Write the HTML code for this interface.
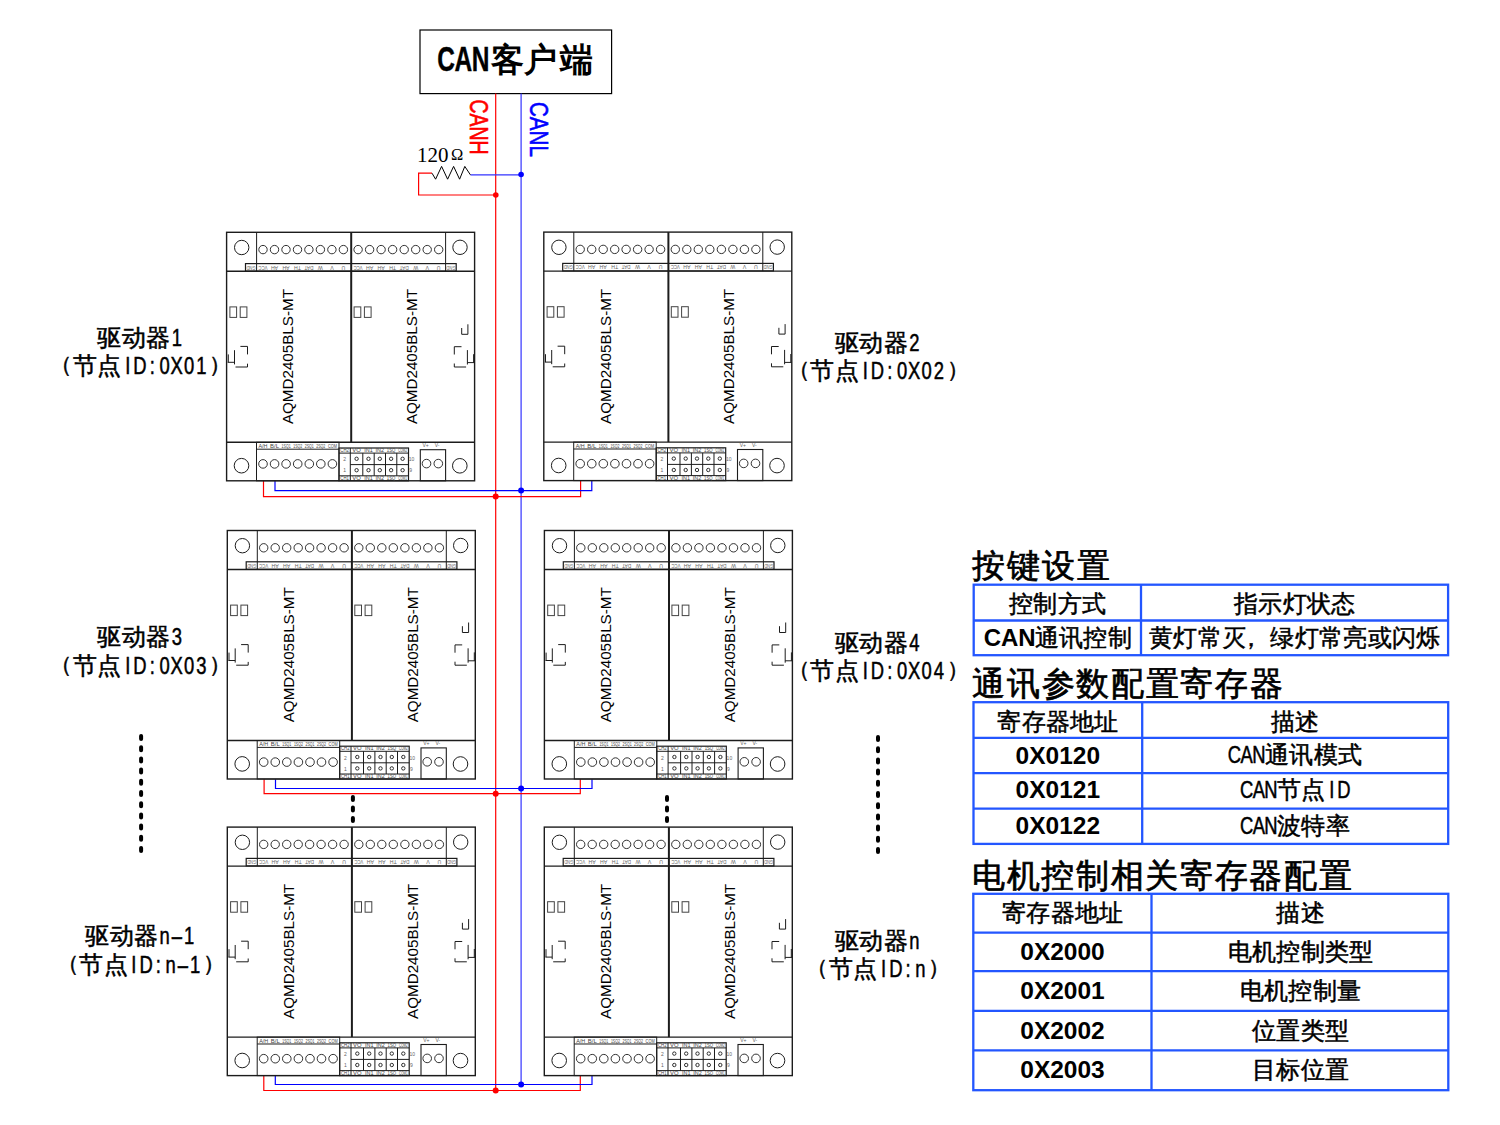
<!DOCTYPE html>
<html><head><meta charset="utf-8">
<style>
html,body{margin:0;padding:0;background:#fff;width:1500px;height:1125px;overflow:hidden}
svg{position:absolute;left:0;top:0;display:block}
text{font-family:"Liberation Sans",sans-serif}
.serif{font-family:"Liberation Serif",serif}
</style></head><body>
<svg width="1500" height="1125" viewBox="0 0 1500 1125">
<defs>
<g id="m" fill="none" stroke="#1c1c1c">
  <!-- outer -->
  <rect x="0" y="0" width="248" height="248.5" stroke-width="1.4"/>
  <!-- top strip -->
  <line x1="0" y1="39" x2="248" y2="39" stroke-width="1.4"/>
  <line x1="30" y1="0" x2="30" y2="39" stroke-width="1"/>
  <line x1="219" y1="0" x2="219" y2="39" stroke-width="1"/>
  <line x1="124.6" y1="0" x2="124.6" y2="210" stroke-width="2"/>
  <!-- body bottom -->
  <line x1="0" y1="210" x2="248" y2="210" stroke-width="1.4"/>
  <!-- big circles -->
  <circle cx="15.1" cy="15.2" r="7.2" stroke-width="1"/>
  <circle cx="233.4" cy="15" r="7.2" stroke-width="1"/>
  <circle cx="14.9" cy="233.4" r="7.3" stroke-width="1"/>
  <circle cx="233.2" cy="233.5" r="7.3" stroke-width="1"/>
  <!-- top small circles -->
  <g stroke-width="0.9">
  <circle cx="36.4" cy="17.3" r="4.2"/><circle cx="47.9" cy="17.3" r="4.2"/><circle cx="59.4" cy="17.3" r="4.2"/><circle cx="70.9" cy="17.3" r="4.2"/><circle cx="82.3" cy="17.3" r="4.2"/><circle cx="93.8" cy="17.3" r="4.2"/><circle cx="105.3" cy="17.3" r="4.2"/><circle cx="116.8" cy="17.3" r="4.2"/>
  <circle cx="131.5" cy="17.3" r="4.2"/><circle cx="143" cy="17.3" r="4.2"/><circle cx="154.5" cy="17.3" r="4.2"/><circle cx="166" cy="17.3" r="4.2"/><circle cx="177.6" cy="17.3" r="4.2"/><circle cx="189.1" cy="17.3" r="4.2"/><circle cx="200.6" cy="17.3" r="4.2"/><circle cx="212.1" cy="17.3" r="4.2"/>
  </g>
  <!-- top label strip -->
  <rect x="18.9" y="31.3" width="210.7" height="7.5" stroke-width="1.2"/>
  <!-- squares -->
  <g stroke="#444" stroke-width="1">
  <rect x="3.3" y="74.6" width="6.7" height="10.5"/><rect x="13.6" y="74.6" width="6.7" height="10.5"/>
  <rect x="127.5" y="74.6" width="6.7" height="10.5"/><rect x="137.8" y="74.6" width="6.7" height="10.5"/>
  </g>
  <!-- left bracket -->
  <g stroke-width="1">
  <path d="M13.8 114.1H20.9V122.1M8.9 134.7H20.9V131.4M7.9 117.9V132.1M1.1 130H7.9M1.7 122.1V130"/>
  <path d="M235.1 95.7V102H241.3V92M234.9 114.4H227.7V122.2M227.7 131.2V134.7H239.5M240.8 117.8V132.2M240.8 130.3H247.9M247 121.9V130.3"/>
  </g>
  <!-- bottom terminal block -->
  <rect x="29.9" y="210" width="82.5" height="38.5" stroke-width="1"/>
  <line x1="29.9" y1="216.9" x2="112.4" y2="216.9" stroke-width="1"/>
  <g stroke-width="0.9">
  <circle cx="36.4" cy="231.6" r="4.3"/><circle cx="47.97" cy="231.6" r="4.3"/><circle cx="59.5" cy="231.6" r="4.3"/><circle cx="71.1" cy="231.6" r="4.3"/><circle cx="82.7" cy="231.6" r="4.3"/><circle cx="94.2" cy="231.6" r="4.3"/><circle cx="105.8" cy="231.6" r="4.3"/>
  </g>
  <!-- pin header -->
  <rect x="112.4" y="215.7" width="69.5" height="32.8" stroke-width="1.2"/>
  <line x1="112.4" y1="220.8" x2="181.9" y2="220.8" stroke-width="1"/>
  <line x1="112.4" y1="243.5" x2="181.9" y2="243.5" stroke-width="1"/>
  <line x1="123.7" y1="215.7" x2="123.7" y2="248.5" stroke-width="1"/>
  <line x1="123.7" y1="232.3" x2="181.9" y2="232.3" stroke-width="1"/>
  <line x1="136.2" y1="220.8" x2="136.2" y2="243.5" stroke-width="1"/>
  <line x1="147.6" y1="220.8" x2="147.6" y2="243.5" stroke-width="1"/>
  <line x1="158.9" y1="220.8" x2="158.9" y2="243.5" stroke-width="1"/>
  <line x1="170.2" y1="220.8" x2="170.2" y2="243.5" stroke-width="1"/>
  <g stroke-width="0.9">
  <circle cx="130" cy="226.5" r="1.7"/><circle cx="141.9" cy="226.5" r="1.7"/><circle cx="153.2" cy="226.5" r="1.7"/><circle cx="164.5" cy="226.5" r="1.7"/><circle cx="176" cy="226.5" r="1.7"/>
  <circle cx="130" cy="237.9" r="1.7"/><circle cx="141.9" cy="237.9" r="1.7"/><circle cx="153.2" cy="237.9" r="1.7"/><circle cx="164.5" cy="237.9" r="1.7"/><circle cx="176" cy="237.9" r="1.7"/>
  </g>
  <!-- power terminal -->
  <rect x="193.7" y="217.4" width="25.3" height="31.1" stroke-width="1.1"/>
  <circle cx="199.9" cy="231.3" r="4.3" stroke-width="0.9"/>
  <circle cx="211.7" cy="231.3" r="4.3" stroke-width="0.9"/>
  <!-- tiny labels -->
  <g fill="#666" stroke="none" style="font-family:'Liberation Serif',serif" font-size="5.2" text-anchor="middle"><text x="24.4" y="36.8" transform="rotate(180 24.4 35)" textLength="9" lengthAdjust="spacingAndGlyphs">GND</text><text x="224.3" y="36.8" transform="rotate(180 224.3 35)" textLength="9" lengthAdjust="spacingAndGlyphs">GND</text><text x="36.4" y="36.8" transform="rotate(180 36.4 35)" textLength="9" lengthAdjust="spacingAndGlyphs">VCC</text><text x="47.9" y="36.8" transform="rotate(180 47.9 35)">AH</text><text x="59.4" y="36.8" transform="rotate(180 59.4 35)">AH</text><text x="70.9" y="36.8" transform="rotate(180 70.9 35)">TH</text><text x="82.3" y="36.8" transform="rotate(180 82.3 35)" textLength="9" lengthAdjust="spacingAndGlyphs">DAT</text><text x="93.8" y="36.8" transform="rotate(180 93.8 35)">W</text><text x="105.3" y="36.8" transform="rotate(180 105.3 35)">V</text><text x="116.8" y="36.8" transform="rotate(180 116.8 35)">U</text><text x="131.5" y="36.8" transform="rotate(180 131.5 35)" textLength="9" lengthAdjust="spacingAndGlyphs">VCC</text><text x="143" y="36.8" transform="rotate(180 143 35)">AH</text><text x="154.5" y="36.8" transform="rotate(180 154.5 35)">AH</text><text x="166" y="36.8" transform="rotate(180 166 35)">TH</text><text x="177.6" y="36.8" transform="rotate(180 177.6 35)" textLength="9" lengthAdjust="spacingAndGlyphs">DAT</text><text x="189.1" y="36.8" transform="rotate(180 189.1 35)">W</text><text x="200.6" y="36.8" transform="rotate(180 200.6 35)">V</text><text x="212.1" y="36.8" transform="rotate(180 212.1 35)">U</text><text x="36.4" y="215.6" fill="#444" font-size="4.6" textLength="9" lengthAdjust="spacingAndGlyphs">A/H</text><text x="47.97" y="215.6" fill="#444" font-size="4.6" textLength="9" lengthAdjust="spacingAndGlyphs">B/L</text><text x="59.5" y="215.6" fill="#444" font-size="4.6" textLength="9" lengthAdjust="spacingAndGlyphs">1SQ1</text><text x="71.1" y="215.6" fill="#444" font-size="4.6" textLength="9" lengthAdjust="spacingAndGlyphs">1SQ2</text><text x="82.7" y="215.6" fill="#444" font-size="4.6" textLength="9" lengthAdjust="spacingAndGlyphs">2SQ1</text><text x="94.2" y="215.6" fill="#444" font-size="4.6" textLength="9" lengthAdjust="spacingAndGlyphs">2SQ2</text><text x="105.8" y="215.6" fill="#444" font-size="4.6" textLength="9" lengthAdjust="spacingAndGlyphs">COM</text><text x="118" y="219.9" fill="#444" font-size="4.6" textLength="8.5" lengthAdjust="spacingAndGlyphs">CH2</text><text x="130" y="219.9" fill="#444" font-size="4.6" textLength="8.5" lengthAdjust="spacingAndGlyphs">VO</text><text x="141.9" y="219.9" fill="#444" font-size="4.6" textLength="8.5" lengthAdjust="spacingAndGlyphs">IN1</text><text x="153.2" y="219.9" fill="#444" font-size="4.6" textLength="8.5" lengthAdjust="spacingAndGlyphs">IN2</text><text x="164.5" y="219.9" fill="#444" font-size="4.6" textLength="8.5" lengthAdjust="spacingAndGlyphs">1SQ</text><text x="176" y="219.9" fill="#444" font-size="4.6" textLength="8.5" lengthAdjust="spacingAndGlyphs">COM2</text><text x="118" y="247.9" fill="#444" font-size="4.6" textLength="8.5" lengthAdjust="spacingAndGlyphs">CH1</text><text x="130" y="247.9" fill="#444" font-size="4.6" textLength="8.5" lengthAdjust="spacingAndGlyphs">VO</text><text x="141.9" y="247.9" fill="#444" font-size="4.6" textLength="8.5" lengthAdjust="spacingAndGlyphs">IN1</text><text x="153.2" y="247.9" fill="#444" font-size="4.6" textLength="8.5" lengthAdjust="spacingAndGlyphs">IN2</text><text x="164.5" y="247.9" fill="#444" font-size="4.6" textLength="8.5" lengthAdjust="spacingAndGlyphs">1SQ</text><text x="176" y="247.9" fill="#444" font-size="4.6" textLength="8.5" lengthAdjust="spacingAndGlyphs">COM1</text><text x="118" y="229" font-size="5">2</text><text x="118" y="240" font-size="5">1</text><text x="185" y="229" font-size="5">10</text><text x="184" y="240" font-size="5">9</text><text x="199" y="214.5" font-size="5">V+</text><text x="210.5" y="214.5" font-size="5">V-</text></g>
  <!-- model text -->
  <g fill="#000" stroke="none" font-size="15.2">
    <text transform="translate(66.7 124.3) rotate(-90)" text-anchor="middle">AQMD2405BLS-MT</text>
    <text transform="translate(190.5 124.3) rotate(-90)" text-anchor="middle">AQMD2405BLS-MT</text>
  </g>
</g>
</defs>

<!-- CAN client box -->
<rect x="420" y="30" width="191.6" height="63.6" fill="none" stroke="#000" stroke-width="1.2"/>

<!-- buses -->
<g fill="none" stroke-width="1.2">
<line x1="495.7" y1="93.6" x2="495.7" y2="1090.5" stroke="#ff0000"/>
<line x1="521.1" y1="93.6" x2="521.1" y2="1084.5" stroke="#3333ff"/>
<path d="M432 173.2H418.6V195H495.7" stroke="#ff0000"/>
<path d="M470.4 174.8H521.1" stroke="#3333ff"/>
<path d="M432 173.2L435.6 179.2L441.6 166.4L447.6 179.2L453.6 166.4L459.6 179.2L464.8 166.4L470.4 174.8" stroke="#000" stroke-width="1"/>
<!-- row1 -->
<path d="M263.5 480.8V496.6H580.6V480.8" stroke="#ff0000"/>
<path d="M275 480.8V490.6H591.8V480.8" stroke="#0000ff"/>
<!-- row2 -->
<path d="M264.1 779.3V793.7H580.3V779.3" stroke="#ff0000"/>
<path d="M275.5 779.3V788.5H592V779.3" stroke="#0000ff"/>
<!-- row3 -->
<path d="M263.8 1075.5V1090.5H580.3V1075.5" stroke="#ff0000"/>
<path d="M275.3 1075.5V1084.5H592V1075.5" stroke="#0000ff"/>
</g>
<g>
<circle cx="495.8" cy="195" r="2.8" fill="#ff0000"/>
<circle cx="521.1" cy="174.5" r="2.8" fill="#0000ff"/>
<circle cx="495.7" cy="496.6" r="3" fill="#ff0000"/>
<circle cx="521.1" cy="490.6" r="3" fill="#0000ff"/>
<circle cx="495.7" cy="793.7" r="3" fill="#ff0000"/>
<circle cx="521.1" cy="788.5" r="3" fill="#0000ff"/>
<circle cx="495.7" cy="1090.5" r="3" fill="#ff0000"/>
<circle cx="521.1" cy="1084.5" r="3" fill="#0000ff"/>
</g>

<!-- modules -->
<use href="#m" x="226.6" y="232.3"/>
<use href="#m" x="543.8" y="232.1"/>
<use href="#m" x="227.3" y="530.5"/>
<use href="#m" x="544.4" y="530.5"/>
<use href="#m" x="227.3" y="827.1"/>
<use href="#m" x="544.3" y="827.1"/>


<g font-weight="bold" fill="#000"><text transform="translate(446 71.2) scale(0.7 1)" font-size="35" text-anchor="middle" stroke="#000" stroke-width="0.4">C</text><text transform="translate(463.3 71.2) scale(0.7 1)" font-size="35" text-anchor="middle" stroke="#000" stroke-width="0.4">A</text><text transform="translate(480.5 71.2) scale(0.7 1)" font-size="35" text-anchor="middle" stroke="#000" stroke-width="0.4">N</text><text x="507" y="71.3" font-size="33.2" text-anchor="middle">客</text><text x="540.5" y="71.3" font-size="33.2" text-anchor="middle">户</text><text x="576.2" y="71.3" font-size="33.2" text-anchor="middle">端</text></g>
<g transform="translate(470 99.6) rotate(90)"><text x="0" y="0" font-size="26.5" fill="#ff0000" stroke="#ff0000" stroke-width="0.6" textLength="55" lengthAdjust="spacingAndGlyphs" transform="translate(0 0)">CANH</text></g>
<g transform="translate(530.3 101.9) rotate(90)"><text x="0" y="0" font-size="26.5" fill="#0000ff" stroke="#0000ff" stroke-width="0.6" textLength="55" lengthAdjust="spacingAndGlyphs">CANL</text></g>
<text x="417" y="161.6" font-size="21" style="font-family:'Liberation Serif',serif">120</text>
<text x="451" y="159.5" font-size="16.5" style="font-family:'Liberation Serif',serif">Ω</text>
<g fill="#000" stroke="#000" stroke-width="0.5"><text x="109.38" y="345.5" font-size="23.5" text-anchor="middle">驱</text><text x="133.88" y="345.5" font-size="23.5" text-anchor="middle">动</text><text x="158.38" y="345.5" font-size="23.5" text-anchor="middle">器</text><text transform="translate(176.75 345.5) scale(0.8 1)" font-size="23" text-anchor="middle">1</text></g>
<g fill="#000" stroke="#000" stroke-width="0.5"><text x="50.38" y="371.8" font-size="21.5">（</text><text x="84.88" y="373.9" font-size="23.5" text-anchor="middle">节</text><text x="109.38" y="373.9" font-size="23.5" text-anchor="middle">点</text><text transform="translate(127.75 373.9) scale(0.8 1)" font-size="23" text-anchor="middle">I</text><text transform="translate(140 373.9) scale(0.8 1)" font-size="23" text-anchor="middle">D</text><text transform="translate(152.25 373.9) scale(0.8 1)" font-size="23" text-anchor="middle">:</text><text transform="translate(164.5 373.9) scale(0.8 1)" font-size="23" text-anchor="middle">0</text><text transform="translate(176.75 373.9) scale(0.8 1)" font-size="23" text-anchor="middle">X</text><text transform="translate(189 373.9) scale(0.8 1)" font-size="23" text-anchor="middle">0</text><text transform="translate(201.25 373.9) scale(0.8 1)" font-size="23" text-anchor="middle">1</text><text x="209.07" y="371.8" font-size="21.5">）</text></g>
<g fill="#000" stroke="#000" stroke-width="0.5"><text x="846.88" y="350.7" font-size="23.5" text-anchor="middle">驱</text><text x="871.38" y="350.7" font-size="23.5" text-anchor="middle">动</text><text x="895.88" y="350.7" font-size="23.5" text-anchor="middle">器</text><text transform="translate(914.25 350.7) scale(0.8 1)" font-size="23" text-anchor="middle">2</text></g>
<g fill="#000" stroke="#000" stroke-width="0.5"><text x="787.88" y="376.9" font-size="21.5">（</text><text x="822.38" y="379" font-size="23.5" text-anchor="middle">节</text><text x="846.88" y="379" font-size="23.5" text-anchor="middle">点</text><text transform="translate(865.25 379) scale(0.8 1)" font-size="23" text-anchor="middle">I</text><text transform="translate(877.5 379) scale(0.8 1)" font-size="23" text-anchor="middle">D</text><text transform="translate(889.75 379) scale(0.8 1)" font-size="23" text-anchor="middle">:</text><text transform="translate(902 379) scale(0.8 1)" font-size="23" text-anchor="middle">0</text><text transform="translate(914.25 379) scale(0.8 1)" font-size="23" text-anchor="middle">X</text><text transform="translate(926.5 379) scale(0.8 1)" font-size="23" text-anchor="middle">0</text><text transform="translate(938.75 379) scale(0.8 1)" font-size="23" text-anchor="middle">2</text><text x="946.58" y="376.9" font-size="21.5">）</text></g>
<g fill="#000" stroke="#000" stroke-width="0.5"><text x="109.38" y="645" font-size="23.5" text-anchor="middle">驱</text><text x="133.88" y="645" font-size="23.5" text-anchor="middle">动</text><text x="158.38" y="645" font-size="23.5" text-anchor="middle">器</text><text transform="translate(176.75 645) scale(0.8 1)" font-size="23" text-anchor="middle">3</text></g>
<g fill="#000" stroke="#000" stroke-width="0.5"><text x="50.38" y="671.8" font-size="21.5">（</text><text x="84.88" y="673.9" font-size="23.5" text-anchor="middle">节</text><text x="109.38" y="673.9" font-size="23.5" text-anchor="middle">点</text><text transform="translate(127.75 673.9) scale(0.8 1)" font-size="23" text-anchor="middle">I</text><text transform="translate(140 673.9) scale(0.8 1)" font-size="23" text-anchor="middle">D</text><text transform="translate(152.25 673.9) scale(0.8 1)" font-size="23" text-anchor="middle">:</text><text transform="translate(164.5 673.9) scale(0.8 1)" font-size="23" text-anchor="middle">0</text><text transform="translate(176.75 673.9) scale(0.8 1)" font-size="23" text-anchor="middle">X</text><text transform="translate(189 673.9) scale(0.8 1)" font-size="23" text-anchor="middle">0</text><text transform="translate(201.25 673.9) scale(0.8 1)" font-size="23" text-anchor="middle">3</text><text x="209.07" y="671.8" font-size="21.5">）</text></g>
<g fill="#000" stroke="#000" stroke-width="0.5"><text x="846.88" y="650.7" font-size="23.5" text-anchor="middle">驱</text><text x="871.38" y="650.7" font-size="23.5" text-anchor="middle">动</text><text x="895.88" y="650.7" font-size="23.5" text-anchor="middle">器</text><text transform="translate(914.25 650.7) scale(0.8 1)" font-size="23" text-anchor="middle">4</text></g>
<g fill="#000" stroke="#000" stroke-width="0.5"><text x="787.88" y="676.9" font-size="21.5">（</text><text x="822.38" y="679" font-size="23.5" text-anchor="middle">节</text><text x="846.88" y="679" font-size="23.5" text-anchor="middle">点</text><text transform="translate(865.25 679) scale(0.8 1)" font-size="23" text-anchor="middle">I</text><text transform="translate(877.5 679) scale(0.8 1)" font-size="23" text-anchor="middle">D</text><text transform="translate(889.75 679) scale(0.8 1)" font-size="23" text-anchor="middle">:</text><text transform="translate(902 679) scale(0.8 1)" font-size="23" text-anchor="middle">0</text><text transform="translate(914.25 679) scale(0.8 1)" font-size="23" text-anchor="middle">X</text><text transform="translate(926.5 679) scale(0.8 1)" font-size="23" text-anchor="middle">0</text><text transform="translate(938.75 679) scale(0.8 1)" font-size="23" text-anchor="middle">4</text><text x="946.58" y="676.9" font-size="21.5">）</text></g>
<g fill="#000" stroke="#000" stroke-width="0.5"><text x="97.12" y="944.4" font-size="23.5" text-anchor="middle">驱</text><text x="121.62" y="944.4" font-size="23.5" text-anchor="middle">动</text><text x="146.12" y="944.4" font-size="23.5" text-anchor="middle">器</text><text transform="translate(164.5 944.4) scale(0.8 1)" font-size="23" text-anchor="middle">n</text><text transform="translate(176.75 944.4) scale(0.8 1)" font-size="23" text-anchor="middle">–</text><text transform="translate(189 944.4) scale(0.8 1)" font-size="23" text-anchor="middle">1</text></g>
<g fill="#000" stroke="#000" stroke-width="0.5"><text x="56.5" y="971.1" font-size="21.5">（</text><text x="91" y="973.2" font-size="23.5" text-anchor="middle">节</text><text x="115.5" y="973.2" font-size="23.5" text-anchor="middle">点</text><text transform="translate(133.88 973.2) scale(0.8 1)" font-size="23" text-anchor="middle">I</text><text transform="translate(146.12 973.2) scale(0.8 1)" font-size="23" text-anchor="middle">D</text><text transform="translate(158.38 973.2) scale(0.8 1)" font-size="23" text-anchor="middle">:</text><text transform="translate(170.62 973.2) scale(0.8 1)" font-size="23" text-anchor="middle">n</text><text transform="translate(182.88 973.2) scale(0.8 1)" font-size="23" text-anchor="middle">–</text><text transform="translate(195.12 973.2) scale(0.8 1)" font-size="23" text-anchor="middle">1</text><text x="202.95" y="971.1" font-size="21.5">）</text></g>
<g fill="#000" stroke="#000" stroke-width="0.5"><text x="846.88" y="949.1" font-size="23.5" text-anchor="middle">驱</text><text x="871.38" y="949.1" font-size="23.5" text-anchor="middle">动</text><text x="895.88" y="949.1" font-size="23.5" text-anchor="middle">器</text><text transform="translate(914.25 949.1) scale(0.8 1)" font-size="23" text-anchor="middle">n</text></g>
<g fill="#000" stroke="#000" stroke-width="0.5"><text x="806.25" y="975.3" font-size="21.5">（</text><text x="840.75" y="977.4" font-size="23.5" text-anchor="middle">节</text><text x="865.25" y="977.4" font-size="23.5" text-anchor="middle">点</text><text transform="translate(883.62 977.4) scale(0.8 1)" font-size="23" text-anchor="middle">I</text><text transform="translate(895.88 977.4) scale(0.8 1)" font-size="23" text-anchor="middle">D</text><text transform="translate(908.12 977.4) scale(0.8 1)" font-size="23" text-anchor="middle">:</text><text transform="translate(920.38 977.4) scale(0.8 1)" font-size="23" text-anchor="middle">n</text><text x="928.2" y="975.3" font-size="21.5">）</text></g>
<g fill="none" stroke="#2356ff" stroke-width="2.3"><rect x="973.7" y="584.7" width="474.4" height="70.5"/><line x1="973.7" y1="620.5" x2="1448.1" y2="620.5"/><line x1="1141" y1="584.7" x2="1141" y2="655.2"/><rect x="973.5" y="702.2" width="474.7" height="141.7"/><line x1="973.5" y1="737.8" x2="1448.2" y2="737.8"/><line x1="973.5" y1="773.2" x2="1448.2" y2="773.2"/><line x1="973.5" y1="808.7" x2="1448.2" y2="808.7"/><line x1="1142.2" y1="702.2" x2="1142.2" y2="843.9"/><rect x="973.3" y="893.8" width="475" height="196.4"/><line x1="973.3" y1="932.6" x2="1448.3" y2="932.6"/><line x1="973.3" y1="971.1" x2="1448.3" y2="971.1"/><line x1="973.3" y1="1010.9" x2="1448.3" y2="1010.9"/><line x1="973.3" y1="1050.4" x2="1448.3" y2="1050.4"/><line x1="1151.5" y1="893.8" x2="1151.5" y2="1090.2"/></g>
<g fill="#000" stroke="#000" stroke-width="0.7"><text x="988.91" y="576.5" font-size="32.5" text-anchor="middle">按</text><text x="1023.62" y="576.5" font-size="32.5" text-anchor="middle">键</text><text x="1058.31" y="576.5" font-size="32.5" text-anchor="middle">设</text><text x="1093.01" y="576.5" font-size="32.5" text-anchor="middle">置</text></g>
<g fill="#000" stroke="#000" stroke-width="0.7"><text x="988.62" y="694.5" font-size="32.5" text-anchor="middle">通</text><text x="1023.32" y="694.5" font-size="32.5" text-anchor="middle">讯</text><text x="1058.01" y="694.5" font-size="32.5" text-anchor="middle">参</text><text x="1092.71" y="694.5" font-size="32.5" text-anchor="middle">数</text><text x="1127.41" y="694.5" font-size="32.5" text-anchor="middle">配</text><text x="1162.12" y="694.5" font-size="32.5" text-anchor="middle">置</text><text x="1196.82" y="694.5" font-size="32.5" text-anchor="middle">寄</text><text x="1231.52" y="694.5" font-size="32.5" text-anchor="middle">存</text><text x="1266.22" y="694.5" font-size="32.5" text-anchor="middle">器</text></g>
<g fill="#000" stroke="#000" stroke-width="0.7"><text x="988.32" y="886.5" font-size="32.5" text-anchor="middle">电</text><text x="1023.02" y="886.5" font-size="32.5" text-anchor="middle">机</text><text x="1057.71" y="886.5" font-size="32.5" text-anchor="middle">控</text><text x="1092.41" y="886.5" font-size="32.5" text-anchor="middle">制</text><text x="1127.12" y="886.5" font-size="32.5" text-anchor="middle">相</text><text x="1161.82" y="886.5" font-size="32.5" text-anchor="middle">关</text><text x="1196.52" y="886.5" font-size="32.5" text-anchor="middle">寄</text><text x="1231.22" y="886.5" font-size="32.5" text-anchor="middle">存</text><text x="1265.92" y="886.5" font-size="32.5" text-anchor="middle">器</text><text x="1300.62" y="886.5" font-size="32.5" text-anchor="middle">配</text><text x="1335.32" y="886.5" font-size="32.5" text-anchor="middle">置</text></g>
<g fill="#000" stroke="#000" stroke-width="0.5"><text x="1020.9" y="611.5" font-size="23.5" text-anchor="middle">控</text><text x="1045.2" y="611.5" font-size="23.5" text-anchor="middle">制</text><text x="1069.5" y="611.5" font-size="23.5" text-anchor="middle">方</text><text x="1093.8" y="611.5" font-size="23.5" text-anchor="middle">式</text></g>
<g fill="#000" stroke="#000" stroke-width="0.5"><text x="1245.95" y="611.5" font-size="23.5" text-anchor="middle">指</text><text x="1270.25" y="611.5" font-size="23.5" text-anchor="middle">示</text><text x="1294.55" y="611.5" font-size="23.5" text-anchor="middle">灯</text><text x="1318.85" y="611.5" font-size="23.5" text-anchor="middle">状</text><text x="1343.15" y="611.5" font-size="23.5" text-anchor="middle">态</text></g>
<text x="1009.7" y="645.5" font-size="24" font-weight="bold" text-anchor="middle">CAN</text>
<g fill="#000" stroke="#000" stroke-width="0.5"><text x="1046.65" y="645.5" font-size="23.5" text-anchor="middle">通</text><text x="1070.95" y="645.5" font-size="23.5" text-anchor="middle">讯</text><text x="1095.25" y="645.5" font-size="23.5" text-anchor="middle">控</text><text x="1119.55" y="645.5" font-size="23.5" text-anchor="middle">制</text></g>
<g fill="#000" stroke="#000" stroke-width="0.5"><text x="1160.9" y="645.5" font-size="23.5" text-anchor="middle">黄</text><text x="1185.2" y="645.5" font-size="23.5" text-anchor="middle">灯</text><text x="1209.5" y="645.5" font-size="23.5" text-anchor="middle">常</text><text x="1233.8" y="645.5" font-size="23.5" text-anchor="middle">灭</text><text x="1238.95" y="645.5" font-size="23.5">，</text><text x="1282.4" y="645.5" font-size="23.5" text-anchor="middle">绿</text><text x="1306.7" y="645.5" font-size="23.5" text-anchor="middle">灯</text><text x="1331" y="645.5" font-size="23.5" text-anchor="middle">常</text><text x="1355.3" y="645.5" font-size="23.5" text-anchor="middle">亮</text><text x="1379.6" y="645.5" font-size="23.5" text-anchor="middle">或</text><text x="1403.9" y="645.5" font-size="23.5" text-anchor="middle">闪</text><text x="1428.2" y="645.5" font-size="23.5" text-anchor="middle">烁</text></g>
<g fill="#000" stroke="#000" stroke-width="0.5"><text x="1009.25" y="729.5" font-size="23.5" text-anchor="middle">寄</text><text x="1033.55" y="729.5" font-size="23.5" text-anchor="middle">存</text><text x="1057.85" y="729.5" font-size="23.5" text-anchor="middle">器</text><text x="1082.15" y="729.5" font-size="23.5" text-anchor="middle">地</text><text x="1106.45" y="729.5" font-size="23.5" text-anchor="middle">址</text></g>
<g fill="#000" stroke="#000" stroke-width="0.5"><text x="1283.1" y="729.5" font-size="23.5" text-anchor="middle">描</text><text x="1307.4" y="729.5" font-size="23.5" text-anchor="middle">述</text></g>
<text x="1057.85" y="763.5" font-size="24.5" font-weight="bold" text-anchor="middle">0X0120</text>
<g fill="#000" stroke="#000" stroke-width="0.5"><text transform="translate(1234.5 762.7) scale(0.8 1)" font-size="23" text-anchor="middle">C</text><text transform="translate(1246.65 762.7) scale(0.8 1)" font-size="23" text-anchor="middle">A</text><text transform="translate(1258.8 762.7) scale(0.8 1)" font-size="23" text-anchor="middle">N</text><text x="1277.03" y="762.7" font-size="23.5" text-anchor="middle">通</text><text x="1301.33" y="762.7" font-size="23.5" text-anchor="middle">讯</text><text x="1325.63" y="762.7" font-size="23.5" text-anchor="middle">模</text><text x="1349.93" y="762.7" font-size="23.5" text-anchor="middle">式</text></g>
<text x="1057.85" y="798.3" font-size="24.5" font-weight="bold" text-anchor="middle">0X0121</text>
<g fill="#000" stroke="#000" stroke-width="0.5"><text transform="translate(1246.65 798) scale(0.8 1)" font-size="23" text-anchor="middle">C</text><text transform="translate(1258.8 798) scale(0.8 1)" font-size="23" text-anchor="middle">A</text><text transform="translate(1270.95 798) scale(0.8 1)" font-size="23" text-anchor="middle">N</text><text x="1289.18" y="798" font-size="23.5" text-anchor="middle">节</text><text x="1313.48" y="798" font-size="23.5" text-anchor="middle">点</text><text transform="translate(1331.7 798) scale(0.8 1)" font-size="23" text-anchor="middle">I</text><text transform="translate(1343.85 798) scale(0.8 1)" font-size="23" text-anchor="middle">D</text></g>
<text x="1057.85" y="834.4" font-size="24.5" font-weight="bold" text-anchor="middle">0X0122</text>
<g fill="#000" stroke="#000" stroke-width="0.5"><text transform="translate(1246.65 834.1) scale(0.8 1)" font-size="23" text-anchor="middle">C</text><text transform="translate(1258.8 834.1) scale(0.8 1)" font-size="23" text-anchor="middle">A</text><text transform="translate(1270.95 834.1) scale(0.8 1)" font-size="23" text-anchor="middle">N</text><text x="1289.18" y="834.1" font-size="23.5" text-anchor="middle">波</text><text x="1313.48" y="834.1" font-size="23.5" text-anchor="middle">特</text><text x="1337.78" y="834.1" font-size="23.5" text-anchor="middle">率</text></g>
<g fill="#000" stroke="#000" stroke-width="0.5"><text x="1013.9" y="921" font-size="23.5" text-anchor="middle">寄</text><text x="1038.2" y="921" font-size="23.5" text-anchor="middle">存</text><text x="1062.5" y="921" font-size="23.5" text-anchor="middle">器</text><text x="1086.8" y="921" font-size="23.5" text-anchor="middle">地</text><text x="1111.1" y="921" font-size="23.5" text-anchor="middle">址</text></g>
<g fill="#000" stroke="#000" stroke-width="0.5"><text x="1288.2" y="921" font-size="23.5" text-anchor="middle">描</text><text x="1312.5" y="921" font-size="23.5" text-anchor="middle">述</text></g>
<text x="1062.5" y="960" font-size="24.5" font-weight="bold" text-anchor="middle">0X2000</text>
<g fill="#000" stroke="#000" stroke-width="0.5"><text x="1239.6" y="960" font-size="23.5" text-anchor="middle">电</text><text x="1263.9" y="960" font-size="23.5" text-anchor="middle">机</text><text x="1288.2" y="960" font-size="23.5" text-anchor="middle">控</text><text x="1312.5" y="960" font-size="23.5" text-anchor="middle">制</text><text x="1336.8" y="960" font-size="23.5" text-anchor="middle">类</text><text x="1361.1" y="960" font-size="23.5" text-anchor="middle">型</text></g>
<text x="1062.5" y="999.3" font-size="24.5" font-weight="bold" text-anchor="middle">0X2001</text>
<g fill="#000" stroke="#000" stroke-width="0.5"><text x="1251.75" y="999.3" font-size="23.5" text-anchor="middle">电</text><text x="1276.05" y="999.3" font-size="23.5" text-anchor="middle">机</text><text x="1300.35" y="999.3" font-size="23.5" text-anchor="middle">控</text><text x="1324.65" y="999.3" font-size="23.5" text-anchor="middle">制</text><text x="1348.95" y="999.3" font-size="23.5" text-anchor="middle">量</text></g>
<text x="1062.5" y="1039.3" font-size="24.5" font-weight="bold" text-anchor="middle">0X2002</text>
<g fill="#000" stroke="#000" stroke-width="0.5"><text x="1263.9" y="1039.3" font-size="23.5" text-anchor="middle">位</text><text x="1288.2" y="1039.3" font-size="23.5" text-anchor="middle">置</text><text x="1312.5" y="1039.3" font-size="23.5" text-anchor="middle">类</text><text x="1336.8" y="1039.3" font-size="23.5" text-anchor="middle">型</text></g>
<text x="1062.5" y="1078.3" font-size="24.5" font-weight="bold" text-anchor="middle">0X2003</text>
<g fill="#000" stroke="#000" stroke-width="0.5"><text x="1263.9" y="1078.3" font-size="23.5" text-anchor="middle">目</text><text x="1288.2" y="1078.3" font-size="23.5" text-anchor="middle">标</text><text x="1312.5" y="1078.3" font-size="23.5" text-anchor="middle">位</text><text x="1336.8" y="1078.3" font-size="23.5" text-anchor="middle">置</text></g>
<!-- dotted -->
<g stroke="#000" stroke-width="4" stroke-linecap="round" stroke-dasharray="3 8.2" fill="none">
<line x1="141.1" y1="736" x2="141.1" y2="851"/>
<line x1="878" y1="737" x2="878" y2="852"/>
<line x1="352.9" y1="797" x2="352.9" y2="821" stroke-dasharray="3 7.5"/>
<line x1="667" y1="797" x2="667" y2="821" stroke-dasharray="3 7.5"/>
</g>
</svg>
</body></html>
